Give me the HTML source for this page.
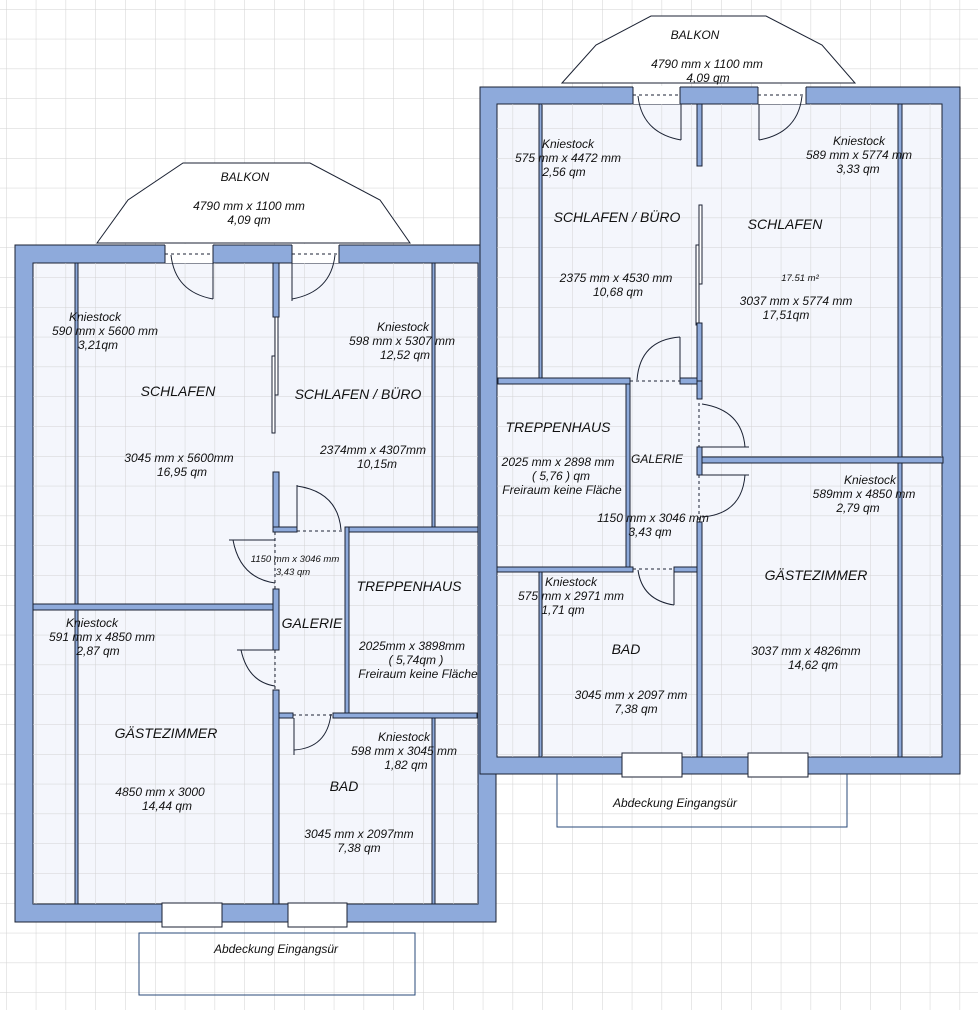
<!DOCTYPE html>
<html><head><meta charset="utf-8"><style>
html,body{margin:0;padding:0;background:#fff;}
svg{display:block;}
text{font-family:"Liberation Sans",Arial,sans-serif;font-style:italic;fill:#111;text-anchor:middle;font-size:12px;}
.big{font-size:14px;}
.sm{font-size:9.5px;}
.w{fill:#8eaadb;stroke:#1b2233;stroke-width:1;}
.t{stroke:#1b2233;stroke-width:1;fill:none;}
.d{stroke:#1b2233;stroke-width:1;fill:none;stroke-dasharray:3,3;}
</style></head><body>
<svg width="978" height="1010" viewBox="0 0 978 1010" xmlns="http://www.w3.org/2000/svg">
<defs>
<pattern id="g" x="6" y="9" width="29.8" height="29.8" patternUnits="userSpaceOnUse">
<path d="M0 0H29.8M0 0V29.8" stroke="#d2d2d2" stroke-width="1" fill="none"/>
</pattern>
</defs>
<rect width="978" height="1010" fill="#fff"/>
<rect width="978" height="1010" fill="url(#g)"/>

<!-- ========== LEFT PLAN ========== -->
<polygon points="97,243 128,200 183,163 310,163 380,200 410,243" fill="#fff" stroke="#1b2233"/>
<rect x="15" y="245" width="481" height="677" class="w"/>
<rect x="33" y="263" width="445" height="641" fill="#f4f6fc" stroke="#1b2233"/>
<rect x="33" y="263" width="445" height="641" fill="url(#g)"/>
<!-- top door gaps -->
<rect x="165" y="244" width="48" height="19" fill="#fff"/>
<rect x="292" y="244" width="47" height="19" fill="#fff"/>
<line x1="165" y1="254" x2="213" y2="254" class="d"/>
<line x1="292" y1="254" x2="339" y2="254" class="d"/>
<line x1="165" y1="245" x2="165" y2="263" class="t"/><line x1="213" y1="245" x2="213" y2="263" class="t"/>
<line x1="292" y1="245" x2="292" y2="263" class="t"/><line x1="339" y1="245" x2="339" y2="263" class="t"/>
<!-- doors top -->
<line x1="213" y1="263" x2="213" y2="299" class="t"/><path d="M171 255 Q175 292 213 299" class="t"/>
<line x1="292" y1="263" x2="292" y2="301" class="t"/><path d="M335 255 Q331 292 292 299" class="t"/>
<!-- kniestock thin walls -->
<rect x="75" y="263" width="3" height="641" class="w"/>
<rect x="432" y="263" width="3" height="264" class="w"/>
<rect x="432" y="717" width="3" height="187" class="w"/>
<!-- middle wall -->
<rect x="273" y="263" width="6" height="54" class="w"/>
<rect x="275" y="317" width="3" height="78" fill="#fff" stroke="#1b2233"/>
<rect x="272" y="356" width="3" height="77" fill="#fff" stroke="#1b2233"/>
<rect x="273" y="472" width="6" height="58" class="w"/>
<rect x="273" y="527" width="24" height="5" class="w"/>
<line x1="297" y1="531" x2="345" y2="531" class="d"/>
<line x1="297" y1="485" x2="297" y2="527" class="t"/><path d="M297 486 Q338 492 341 530" class="t"/>
<line x1="275" y1="532" x2="275" y2="589" class="d"/>
<line x1="229" y1="540" x2="275" y2="540" class="t"/><path d="M233 540 Q240 578 275 583" class="t"/>
<!-- treppenhaus -->
<rect x="345" y="527" width="133" height="5" class="w"/>
<rect x="345" y="527" width="4" height="186" class="w"/>
<!-- horizontal wall -->
<rect x="33" y="604" width="240" height="6" class="w"/>
<rect x="273" y="589" width="6" height="61" class="w"/>
<line x1="275" y1="650" x2="275" y2="690" class="d"/>
<line x1="237" y1="650" x2="275" y2="650" class="t"/><path d="M241 650 Q248 682 275 686" class="t"/>
<rect x="273" y="690" width="6" height="214" class="w"/>
<!-- bad top -->
<rect x="279" y="713" width="14" height="5" class="w"/>
<rect x="333" y="713" width="144" height="5" class="w"/>
<line x1="293" y1="715" x2="333" y2="715" class="d"/>
<line x1="294" y1="718" x2="294" y2="755" class="t"/><path d="M294 750 Q327 748 331 714" class="t"/>
<!-- windows -->
<rect x="162" y="903" width="60" height="24" fill="#fff" stroke="#1b2233"/>
<rect x="288" y="903" width="59" height="24" fill="#fff" stroke="#1b2233"/>
<rect x="139" y="933" width="276" height="62" fill="none" stroke="#2a4a78"/>

<!-- ========== RIGHT PLAN ========== -->
<polygon points="562,83 596,45 651,16 766,16 822,45 855,83" fill="#fff" stroke="#1b2233"/>
<rect x="480" y="87" width="480" height="687" class="w"/>
<rect x="497" y="104" width="445" height="653" fill="#f4f6fc" stroke="#1b2233"/>
<rect x="497" y="104" width="445" height="653" fill="url(#g)"/>
<rect x="633" y="86" width="47" height="18" fill="#fff"/>
<rect x="758" y="86" width="48" height="18" fill="#fff"/>
<line x1="633" y1="95" x2="680" y2="95" class="d"/>
<line x1="758" y1="95" x2="806" y2="95" class="d"/>
<line x1="633" y1="87" x2="633" y2="104" class="t"/><line x1="680" y1="87" x2="680" y2="104" class="t"/>
<line x1="758" y1="87" x2="758" y2="104" class="t"/><line x1="806" y1="87" x2="806" y2="104" class="t"/>
<line x1="681" y1="104" x2="681" y2="140" class="t"/><path d="M638 96 Q642 133 681 140" class="t"/>
<line x1="759" y1="104" x2="759" y2="140" class="t"/><path d="M802 96 Q798 133 759 140" class="t"/>
<!-- thin kniestock -->
<rect x="539" y="104" width="3" height="274" class="w"/>
<rect x="539" y="572" width="3" height="185" class="w"/>
<rect x="898" y="104" width="4" height="653" class="w"/>
<!-- middle wall -->
<rect x="697" y="104" width="5" height="62" class="w"/>
<rect x="699" y="205" width="3" height="79" fill="#fff" stroke="#1b2233"/>
<rect x="696" y="245" width="3" height="80" fill="#fff" stroke="#1b2233"/>
<rect x="697" y="323" width="5" height="76" class="w"/>
<rect x="697" y="381" width="5" height="18" class="w"/>
<line x1="699" y1="403" x2="699" y2="447" class="d"/>
<line x1="702" y1="447" x2="749" y2="447" class="t"/><path d="M702 404 Q742 410 745 447" class="t"/>
<rect x="697" y="447" width="5" height="28" class="w"/>
<line x1="702" y1="475" x2="749" y2="475" class="t"/><path d="M745 475 Q742 514 702 517" class="t"/>
<line x1="699" y1="475" x2="699" y2="522" class="d"/>
<rect x="697" y="522" width="5" height="235" class="w"/>
<!-- horizontals -->
<rect x="498" y="378" width="132" height="6" class="w"/>
<line x1="630" y1="381" x2="680" y2="381" class="d"/>
<rect x="680" y="378" width="17" height="6" class="w"/>
<line x1="680" y1="337" x2="680" y2="380" class="t"/><path d="M637 380 Q640 340 680 337" class="t"/>
<rect x="626" y="384" width="4" height="184" class="w"/>
<rect x="497" y="567" width="136" height="5" class="w"/>
<rect x="674" y="567" width="23" height="5" class="w"/>
<line x1="633" y1="569" x2="674" y2="569" class="d"/>
<line x1="674" y1="572" x2="674" y2="605" class="t"/><path d="M638 570 Q642 600 674 605" class="t"/>
<rect x="702" y="457" width="241" height="6" class="w"/>
<!-- windows -->
<rect x="622" y="753" width="60" height="24" fill="#fff" stroke="#1b2233"/>
<rect x="748" y="753" width="60" height="24" fill="#fff" stroke="#1b2233"/>
<path d="M557 774 V827 H847 V774" fill="none" stroke="#2a4a78"/>

<!-- ========== LEFT TEXT ========== -->
<text x="245" y="181">BALKON</text>
<text x="249" y="210">4790 mm x 1100 mm</text>
<text x="249" y="224">4,09 qm</text>
<text x="95" y="321">Kniestock</text>
<text x="105" y="335">590 mm x 5600 mm</text>
<text x="98" y="349">3,21qm</text>
<text x="178" y="396" class="big">SCHLAFEN</text>
<text x="179" y="462">3045 mm x 5600mm</text>
<text x="182" y="476">16,95 qm</text>
<text x="403" y="331">Kniestock</text>
<text x="402" y="345">598 mm x 5307 mm</text>
<text x="405" y="359">12,52 qm</text>
<text x="358" y="399" class="big">SCHLAFEN / BÜRO</text>
<text x="373" y="454">2374mm x 4307mm</text>
<text x="377" y="468">10,15m</text>
<text x="295" y="562" class="sm">1150 mm x 3046 mm</text>
<text x="293" y="575" class="sm">3,43 qm</text>
<text x="409" y="591" class="big">TREPPENHAUS</text>
<text x="92" y="627">Kniestock</text>
<text x="102" y="641">591 mm x 4850 mm</text>
<text x="98" y="655">2,87 qm</text>
<text x="312" y="628" class="big">GALERIE</text>
<text x="412" y="650">2025mm x 3898mm</text>
<text x="416" y="664">( 5,74qm )</text>
<text x="418" y="678">Freiraum keine Fläche</text>
<text x="166" y="738" class="big">GÄSTEZIMMER</text>
<text x="404" y="741">Kniestock</text>
<text x="404" y="755">598 mm x 3045 mm</text>
<text x="406" y="769">1,82 qm</text>
<text x="344" y="791" class="big">BAD</text>
<text x="160" y="796">4850 mm x 3000</text>
<text x="167" y="810">14,44 qm</text>
<text x="359" y="838">3045 mm x 2097mm</text>
<text x="359" y="852">7,38 qm</text>
<text x="276" y="953">Abdeckung Eingangsür</text>

<!-- ========== RIGHT TEXT ========== -->
<text x="695" y="39">BALKON</text>
<text x="707" y="68">4790 mm x 1100 mm</text>
<text x="708" y="82">4,09 qm</text>
<text x="568" y="148">Kniestock</text>
<text x="568" y="162">575 mm x 4472 mm</text>
<text x="564" y="176">2,56 qm</text>
<text x="859" y="145">Kniestock</text>
<text x="859" y="159">589 mm x 5774 mm</text>
<text x="858" y="173">3,33 qm</text>
<text x="617" y="222" class="big">SCHLAFEN / BÜRO</text>
<text x="785" y="229" class="big">SCHLAFEN</text>
<text x="800" y="281" class="sm">17.51 m²</text>
<text x="616" y="282">2375 mm x 4530 mm</text>
<text x="618" y="296">10,68 qm</text>
<text x="796" y="305">3037 mm x 5774 mm</text>
<text x="786" y="319">17,51qm</text>
<text x="558" y="432" class="big">TREPPENHAUS</text>
<text x="657" y="463">GALERIE</text>
<text x="558" y="466">2025 mm x 2898 mm</text>
<text x="561" y="480">( 5,76 ) qm</text>
<text x="562" y="494">Freiraum keine Fläche</text>
<text x="870" y="484">Kniestock</text>
<text x="864" y="498">589mm x 4850 mm</text>
<text x="858" y="512">2,79 qm</text>
<text x="653" y="522">1150 mm x 3046 mm</text>
<text x="650" y="536">3,43 qm</text>
<text x="571" y="586">Kniestock</text>
<text x="571" y="600">575 mm x 2971 mm</text>
<text x="563" y="614">1,71 qm</text>
<text x="816" y="580" class="big">GÄSTEZIMMER</text>
<text x="626" y="654" class="big">BAD</text>
<text x="806" y="655">3037 mm x 4826mm</text>
<text x="813" y="669">14,62 qm</text>
<text x="631" y="699">3045 mm x 2097 mm</text>
<text x="636" y="713">7,38 qm</text>
<text x="675" y="807">Abdeckung Eingangsür</text>
</svg>
</body></html>
